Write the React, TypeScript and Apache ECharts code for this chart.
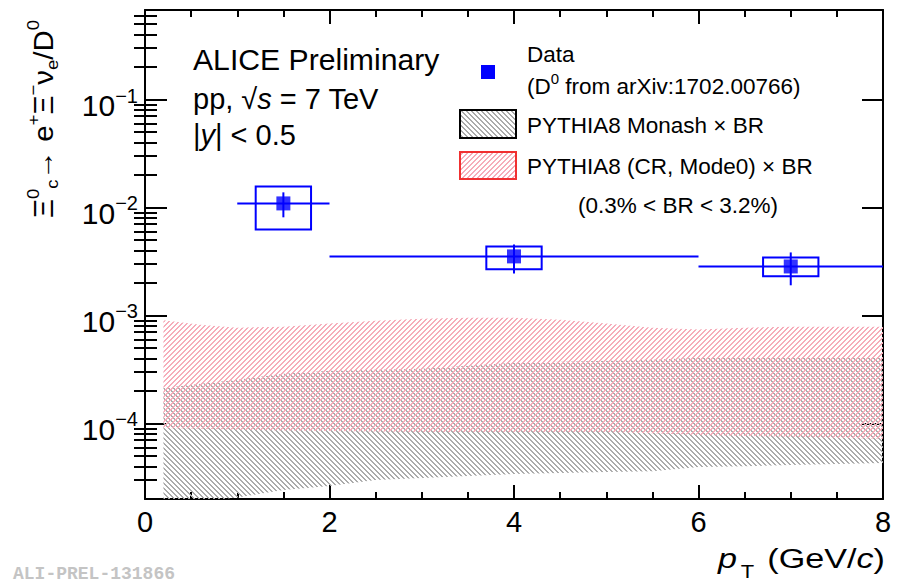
import React, { useEffect, useRef } from 'react';
import * as echarts from 'echarts';

const FONT = '"Liberation Sans", Arial, Helvetica, sans-serif';

// ---- axis ranges ----
const X_MIN = 0;
const X_MAX = 8;
const X_INTERVAL = 2;
const Y_MIN = 1.99e-5;
const Y_MAX = 0.675;
const Y_MAJOR = [1e-4, 1e-3, 1e-2, 1e-1];

// ---- data points (Xi_c^0 -> e Xi nu / D0) ----
const ptCenter = [1.5, 4, 7];
const ptBinLow = [1, 2, 6];
const ptBinHigh = [2, 6, 8];
const ratio = [0.0109, 0.00352, 0.00284];
const statLow = [0.0081, 0.00245, 0.0019];
const statHigh = [0.0138, 0.00454, 0.00383];
const sysLow = [0.00625, 0.00267, 0.0023];
const sysHigh = [0.0156, 0.00435, 0.00344];
const SYS_HALF_WIDTH = 0.3;

// ---- PYTHIA8 bands ----
const bandPt = [0.2, 0.6, 1.0, 1.5, 2.0, 2.5, 3.0, 3.5, 4.0, 4.5, 5.0, 5.5, 6.0, 6.5, 7.0, 7.5, 8.0];
const monashUpper = [2.13e-4, 2.33e-4, 2.53e-4, 2.88e-4, 3.07e-4, 3.13e-4, 3.2e-4, 3.41e-4, 3.64e-4, 3.72e-4, 3.8e-4, 3.88e-4, 4.05e-4, 4.05e-4, 4.05e-4, 4.05e-4, 4.05e-4];
const monashLower = [1.7e-5, 1.9e-5, 2.05e-5, 2.41e-5, 2.62e-5, 2.99e-5, 3.11e-5, 3.25e-5, 3.39e-5, 3.47e-5, 3.54e-5, 3.6e-5, 3.94e-5, 4.0e-5, 4.11e-5, 4.2e-5, 4.28e-5];
const crUpper = [9.0e-4, 8.2e-4, 7.7e-4, 7.85e-4, 8.4e-4, 8.9e-4, 9.3e-4, 9.5e-4, 9.5e-4, 9.1e-4, 8.4e-4, 7.7e-4, 7.4e-4, 7.7e-4, 7.85e-4, 7.85e-4, 7.85e-4];
const crLower = [9.05e-5, 8.9e-5, 8.7e-5, 8.6e-5, 8.5e-5, 8.4e-5, 8.3e-5, 8.3e-5, 8.3e-5, 8.3e-5, 8.3e-5, 8.1e-5, 7.8e-5, 7.65e-5, 7.5e-5, 7.35e-5, 7.2e-5];

const lg = (v: number) => Math.log10(v);

function makeHatch(color: string, rising: boolean) {
  const s = 5;
  const c = document.createElement('canvas');
  c.width = s;
  c.height = s;
  const ctx = c.getContext('2d')!;
  ctx.fillStyle = color;
  for (let i = 0; i < s; i++) {
    const y = rising ? s - 1 - i : i;
    ctx.fillRect(i, y, 1, 1);
    ctx.fillRect((i + 1) % s, y, 1, 1);
  }
  return c;
}

function minorValues() {
  const out: number[] = [];
  for (let e = -5; e <= -1; e++) {
    for (let k = 2; k <= 9; k++) {
      const v = k * Math.pow(10, e);
      if (v > Y_MIN * 1.01 && v < Y_MAX * 0.99) out.push(lg(v));
    }
  }
  return out;
}

export default function App() {
  const ref = useRef<HTMLDivElement>(null);

  useEffect(() => {
    if (!ref.current) return;
    const chart = echarts.init(ref.current, null, { renderer: 'svg' });

    const greyHatch = { image: makeHatch('#ababab', false), repeat: 'repeat' };
    const redHatch = { image: makeHatch('#f6adba', true), repeat: 'repeat' };

    const yMin = lg(Y_MIN);
    const yMax = lg(Y_MAX);
    const majors = Y_MAJOR.map(lg);
    const minors = minorValues();

    const black = '#000';
    const blue = '#0000ff';

    const baseY = {
      type: 'value',
      min: yMin,
      max: yMax,
      splitLine: { show: false },
      axisLine: { show: true, onZero: false, lineStyle: { color: black, width: 2 } },
    };

    const yAxes = [
      {
        ...baseY,
        position: 'left',
        axisTick: { show: true, inside: true, length: 22, customValues: majors, lineStyle: { color: black, width: 2 } },
        axisLabel: {
          show: true,
          customValues: majors,
          margin: 7,
          padding: [12, 0, 0, 0],
          formatter: (v: number) => `{b|10}{s|\u2212${Math.round(-v)}}`,
          rich: {
            b: { fontSize: 30, fontFamily: FONT, color: black, lineHeight: 40 },
            s: { fontSize: 20, fontFamily: FONT, color: black, lineHeight: 16, verticalAlign: 'top' },
          },
        },
      },
      {
        ...baseY,
        position: 'left',
        axisLine: { show: false },
        axisTick: { show: true, inside: true, length: 12, customValues: minors, lineStyle: { color: black, width: 2 } },
        axisLabel: { show: false },
      },
      {
        ...baseY,
        position: 'right',
        axisTick: { show: true, inside: true, length: 21, customValues: majors, lineStyle: { color: black, width: 2 } },
        axisLabel: { show: false },
      },
      {
        ...baseY,
        position: 'right',
        axisLine: { show: false },
        axisTick: { show: true, inside: true, length: 11, customValues: minors, lineStyle: { color: black, width: 2 } },
        axisLabel: { show: false },
      },
    ];

    const baseX = {
      type: 'value',
      min: X_MIN,
      max: X_MAX,
      interval: X_INTERVAL,
      splitLine: { show: false },
      axisLine: { show: true, onZero: false, lineStyle: { color: black, width: 2 } },
      axisTick: { show: true, inside: true, length: 14, lineStyle: { color: black, width: 2 } },
      minorTick: { show: true, splitNumber: 4, length: 7, lineStyle: { color: black, width: 2 } },
    };

    const xAxes = [
      {
        ...baseX,
        position: 'bottom',
        axisLabel: { show: true, fontSize: 29, fontFamily: FONT, color: black, margin: 8 },
      },
      { ...baseX, position: 'top', axisLabel: { show: false } },
    ];

    const bandSeries = (name: string, upper: number[], lower: number[], fill: any, z: number) => ({
      name,
      type: 'custom',
      xAxisIndex: 0,
      yAxisIndex: 0,
      clip: true,
      silent: true,
      z,
      encode: { x: 0, y: [1, 2] },
      data: bandPt.map((x, i) => [x, lg(lower[i]), lg(upper[i])]),
      renderItem: (params: any, api: any) => {
        if (params.dataIndex !== 0) return null;
        const top = bandPt.map((x, i) => api.coord([x, lg(upper[i])]));
        const bot = bandPt.map((x, i) => api.coord([x, lg(lower[i])])).reverse();
        return {
          type: 'polygon',
          shape: { points: top.concat(bot) },
          style: { fill, stroke: 'none' },
        };
      },
    });

    const pointData = ptCenter.map((x, i) => [
      x,
      lg(ratio[i]),
      ptBinLow[i],
      ptBinHigh[i],
      lg(statLow[i]),
      lg(statHigh[i]),
      lg(sysLow[i]),
      lg(sysHigh[i]),
    ]);

    const option: any = {
      animation: false,
      backgroundColor: '#fff',
      grid: { left: 145, right: 18, top: 10, bottom: 87, containLabel: false },
      xAxis: xAxes,
      yAxis: yAxes,
      series: [
        bandSeries('PYTHIA8 Monash × BR', monashUpper, monashLower, greyHatch, 1),
        bandSeries('PYTHIA8 (CR, Mode0) × BR', crUpper, crLower, redHatch, 2),
        {
          name: 'Data errors',
          type: 'custom',
          clip: true,
          z: 5,
          encode: { x: 0, y: 1 },
          data: pointData,
          renderItem: (params: any, api: any) => {
            const x = api.value(0);
            const y = api.value(1);
            const bl = api.coord([api.value(2), y]);
            const bh = api.coord([api.value(3), y]);
            const sl = api.coord([x, api.value(4)]);
            const sh = api.coord([x, api.value(5)]);
            const b1 = api.coord([x - SYS_HALF_WIDTH, api.value(7)]);
            const b2 = api.coord([x + SYS_HALF_WIDTH, api.value(6)]);
            const ls = { stroke: blue, lineWidth: 2 };
            return {
              type: 'group',
              children: [
                {
                  type: 'rect',
                  shape: { x: b1[0], y: b1[1], width: b2[0] - b1[0], height: b2[1] - b1[1] },
                  style: { fill: 'none', stroke: blue, lineWidth: 2 },
                },
                { type: 'line', shape: { x1: bl[0], y1: bl[1], x2: bh[0], y2: bh[1] }, style: ls },
                { type: 'line', shape: { x1: sl[0], y1: sl[1], x2: sh[0], y2: sh[1] }, style: ls },
              ],
            };
          },
        },
        {
          name: 'Data',
          type: 'scatter',
          z: 6,
          symbol: 'rect',
          symbolSize: 14,
          itemStyle: { color: blue },
          data: ptCenter.map((x, i) => [x, lg(ratio[i])]),
        },
      ],
      graphic: [
        {
          type: 'text',
          x: 193,
          y: 60,
          scaleX: 1.04,
          style: { text: 'ALICE Preliminary', font: `29px ${FONT}`, fill: black, verticalAlign: 'middle' },
        },
        {
          type: 'text',
          x: 193,
          y: 99,
          style: {
            text: '{n|pp, \u221A}{i|s}{n| = 7 TeV}',
            fill: black,
            verticalAlign: 'middle',
            rich: {
              n: { fontSize: 29, fontFamily: FONT, fill: black },
              i: { fontSize: 29, fontFamily: FONT, fontStyle: 'italic', fill: black },
            },
          },
        },
        {
          type: 'text',
          x: 193,
          y: 135,
          style: {
            text: '{n||}{i|y}{n|| < 0.5}',
            fill: black,
            verticalAlign: 'middle',
            rich: {
              n: { fontSize: 29, fontFamily: FONT, fill: black },
              i: { fontSize: 29, fontFamily: FONT, fontStyle: 'italic', fill: black },
            },
          },
        },
        // legend
        { type: 'rect', shape: { x: 481, y: 65, width: 14, height: 14 }, style: { fill: blue } },
        {
          type: 'text',
          x: 527,
          y: 54,
          style: { text: 'Data', font: `22.5px ${FONT}`, fill: black, verticalAlign: 'middle' },
        },
        {
          type: 'text',
          x: 527,
          y: 86,
          style: {
            text: '{n|(D}{s|0}{n| from arXiv:1702.00766)}',
            verticalAlign: 'middle',
            rich: {
              n: { fontSize: 22.5, fontFamily: FONT, fill: black, lineHeight: 30 },
              s: { fontSize: 15, fontFamily: FONT, fill: black, lineHeight: 14, verticalAlign: 'top' },
            },
          },
        },
        {
          type: 'rect',
          shape: { x: 460, y: 110, width: 56, height: 28 },
          style: { fill: greyHatch, stroke: black, lineWidth: 2 },
        },
        {
          type: 'text',
          x: 527,
          y: 125,
          style: { text: 'PYTHIA8 Monash \u00D7 BR', font: `22.5px ${FONT}`, fill: black, verticalAlign: 'middle' },
        },
        {
          type: 'rect',
          shape: { x: 460, y: 152, width: 56, height: 27 },
          style: { fill: redHatch, stroke: '#f03030', lineWidth: 2 },
        },
        {
          type: 'text',
          x: 527,
          y: 166,
          style: { text: 'PYTHIA8 (CR, Mode0) \u00D7 BR', font: `22.5px ${FONT}`, fill: black, verticalAlign: 'middle' },
        },
        {
          type: 'text',
          x: 578,
          y: 205,
          style: { text: '(0.3% < BR < 3.2%)', font: `22.5px ${FONT}`, fill: black, verticalAlign: 'middle' },
        },
        // x-axis title
        {
          type: 'text',
          x: 885,
          y: 559,
          scaleX: 1.22,
          style: {
            text: '{i|p}{sub|T}{n| (GeV/}{i|c}{n|)}',
            align: 'right',
            verticalAlign: 'middle',
            rich: {
              n: { fontSize: 28, fontFamily: FONT, fill: black, lineHeight: 44 },
              i: { fontSize: 28, fontFamily: FONT, fontStyle: 'italic', fill: black, lineHeight: 44 },
              sub: { fontSize: 18, fontFamily: FONT, fill: black, lineHeight: 14, verticalAlign: 'bottom', padding: [0, 3, 0, 3] },
            },
          },
        },
        // y-axis title
        {
          type: 'text',
          x: 43,
          y: 119,
          rotation: Math.PI / 2,
          scaleX: 1.09,
          style: {
            text: '{m|\u039E}{sup|0}{sub|c}{m|\u2192 e}{sup|+}{m|\u039E}{sup|\u2212}{m|\u03BD}{sub|e}{m|/D}{sup|0}',
            align: 'center',
            verticalAlign: 'middle',
            rich: {
              m: { fontSize: 27, fontFamily: FONT, fill: black, lineHeight: 36 },
              sup: { fontSize: 17, fontFamily: FONT, fill: black, lineHeight: 14, verticalAlign: 'top' },
              sub: { fontSize: 17, fontFamily: FONT, fill: black, lineHeight: 14, verticalAlign: 'bottom' },
            },
          },
        },
        // watermark
        {
          type: 'text',
          x: 13,
          y: 574,
          style: {
            text: 'ALI-PREL-131866',
            font: `bold 18px "Liberation Mono", "DejaVu Sans Mono", monospace`,
            fill: '#c4c4c4',
            verticalAlign: 'middle',
          },
        },
      ],
    };

    chart.setOption(option);
    return () => chart.dispose();
  }, []);

  return (
    <div
      ref={ref}
      style={{ position: 'fixed', left: 0, top: 0, width: 901, height: 586, background: '#fff' }}
    />
  );
}
